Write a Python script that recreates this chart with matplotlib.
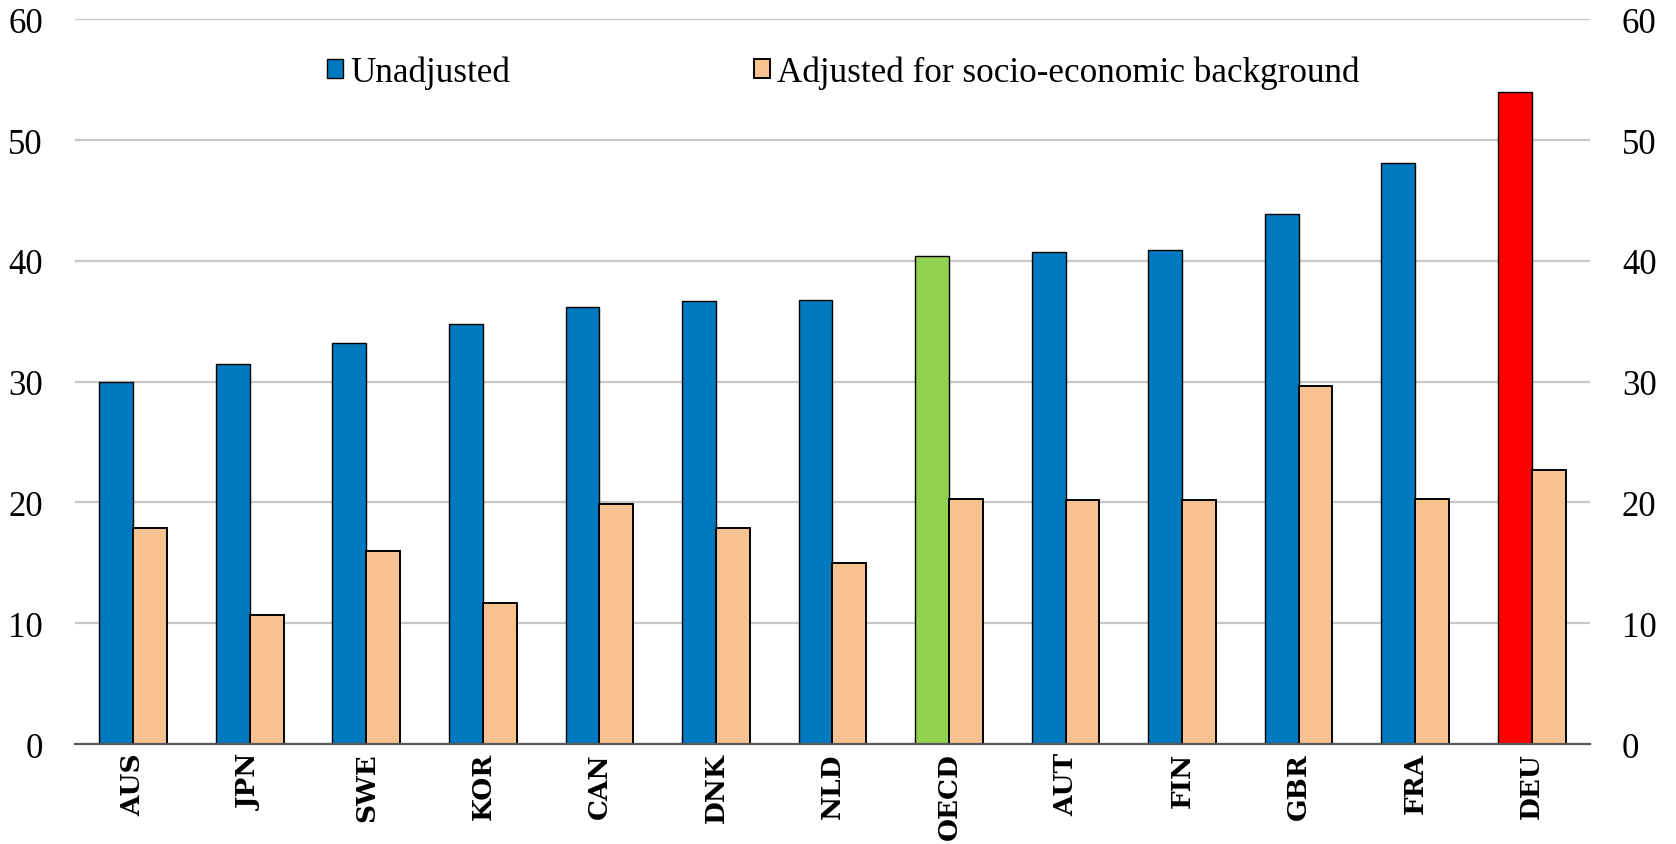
import numpy as np
import matplotlib.pyplot as plt
from matplotlib.patches import Patch

# Values per country
countries = ["AUS", "JPN", "SWE", "KOR", "CAN", "DNK", "NLD",
             "OECD", "AUT", "FIN", "GBR", "FRA", "DEU"]
unadjusted = [30.0, 31.5, 33.2, 34.8, 36.2, 36.7, 36.8,
              40.4, 40.7, 40.9, 43.9, 48.1, 54.0]
adjusted = [17.9, 10.7, 16.0, 11.7, 19.9, 17.9, 15.0,
            20.3, 20.2, 20.2, 29.6, 20.3, 22.7]
y_ticks = [0, 10, 20, 30, 40, 50, 60]

blue = "#0179BF"
peach = "#F8C190"
highlight = {"OECD": "#92D050", "DEU": "#FF0000"}

plt.rcParams["font.family"] = ["Liberation Serif", "DejaVu Serif"]

fig = plt.figure(figsize = (16.76, 8.45), dpi = 100)
ax = fig.add_axes([0.0447, 0.1183, 0.904, 0.8577])

x = np.arange(len(countries))
w = 0.29
blue_cols = [highlight.get(c, blue) for c in countries]

ax.bar(x - w / 2, unadjusted, w, color = blue_cols, edgecolor = "black",
       linewidth = 1.0, zorder = 3)
ax.bar(x + w / 2, adjusted, w, color = peach, edgecolor = "black",
       linewidth = 1.4, zorder = 3)

# legend patches use the plain series colours
handles = [Patch(facecolor = blue, edgecolor = "black", linewidth = 1.0),
           Patch(facecolor = peach, edgecolor = "black", linewidth = 1.4)]
labels = ["Unadjusted", "Adjusted for socio-economic background"]
fig.legend(handles, labels, ncol = 2, loc = "center left",
           bbox_to_anchor = (327 / 1676, 1 - 73 / 845), frameon = False,
           fontsize = 25.3, handlelength = 0.46, handleheight = 0.46,
           handletextpad = 0.2, columnspacing = 6.95, borderpad = 0, borderaxespad = 0)

ax.set_xlim(-0.5, len(countries) - 0.5)
ax.set_ylim(0, 60)
ax.set_yticks(y_ticks)
ax.set_xticks(x)
ax.grid(axis = "y", color = "#C8C8C8", linewidth = 1.6, zorder = 0)
ax.tick_params(axis = "both", length = 0)
ax.tick_params(axis = "y", labelsize = 25, pad = 23, labelright = True)
ax.tick_params(axis = "x", pad = 6)
ax.set_xticklabels(countries, rotation = 90)
for lbl in ax.get_xticklabels():
    lbl.set_fontfamily("DejaVu Serif")
    lbl.set_fontweight("bold")
    lbl.set_fontsize(19)
for s in ["top", "left", "right"]:
    ax.spines[s].set_visible(False)
ax.spines["bottom"].set_color("#595959")
ax.spines["bottom"].set_linewidth(1.6)
ax.spines["bottom"].set_zorder(4)

plt.savefig("out.png", dpi = 100)
plt.close()
